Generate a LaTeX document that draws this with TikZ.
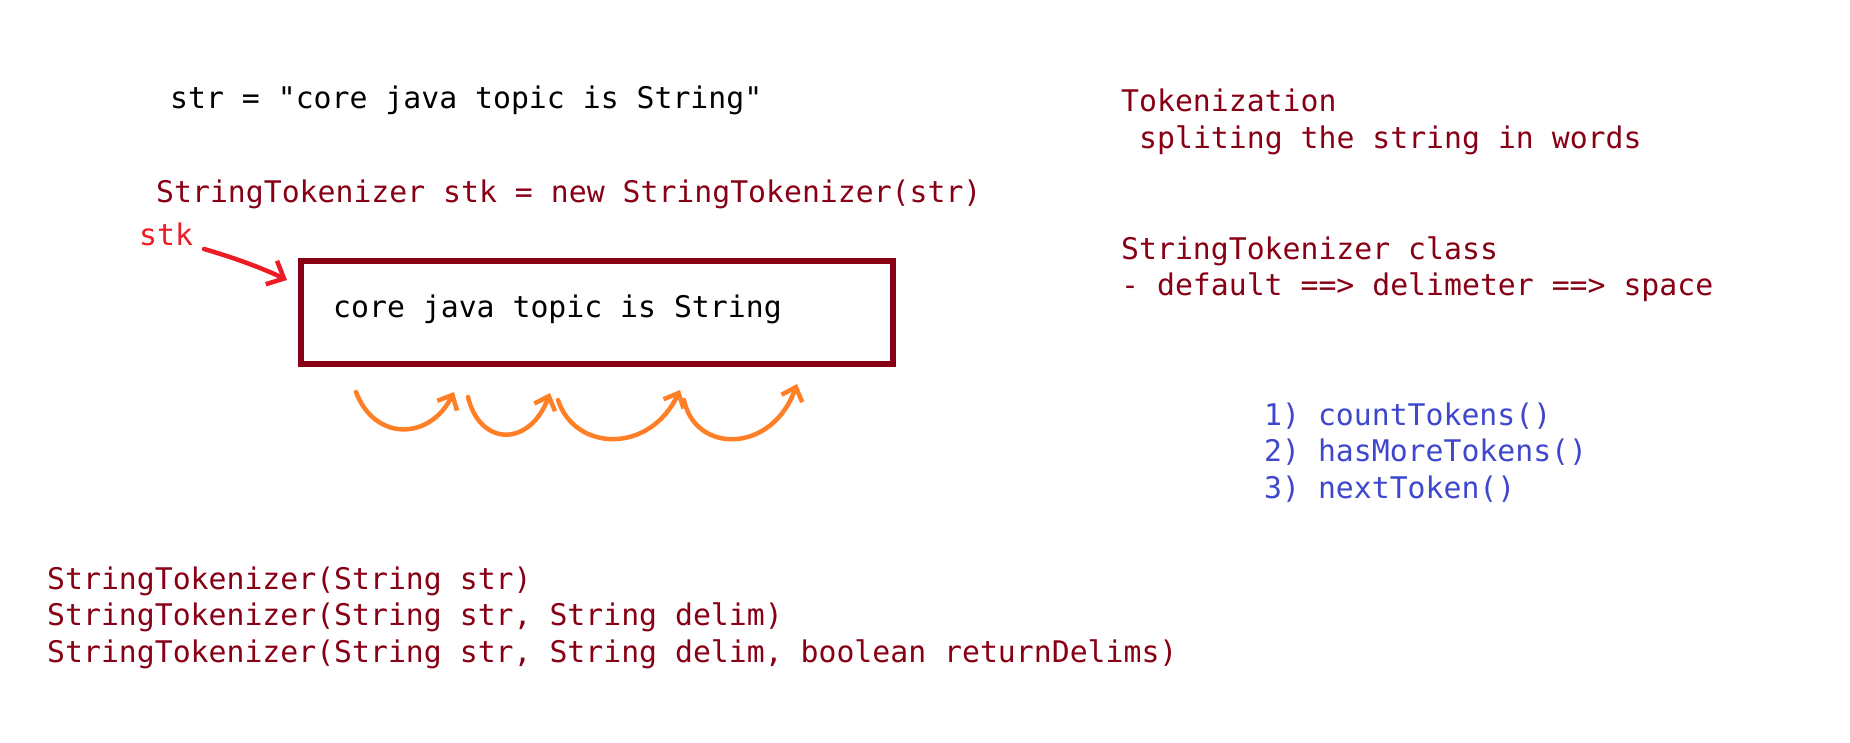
\documentclass[tikz,border=0pt]{standalone}
\usepackage{fontspec}
\setmonofont{DejaVu Sans Mono}
\usetikzlibrary{arrows.meta}
\definecolor{darkred}{HTML}{880015}
\definecolor{redpen}{HTML}{ED1C24}
\definecolor{orangepen}{HTML}{FF7F27}
\definecolor{bluetext}{HTML}{3F48CC}
\tikzset{
  code/.style={font=\fontsize{29.8}{36.6}\selectfont\ttfamily, inner sep=0pt, anchor=base west},
  maroon/.style={code, text=darkred},
  bluecode/.style={code, text=bluetext},
  strbox/.style={draw=darkred, line width=6pt},
  redarrow/.style={draw=redpen, line width=4.5pt, line cap=round, -{Straight Barb[length=14pt,width=26pt,line width=4.5pt]}},
  hop/.style={draw=orangepen, line width=4.5pt, line cap=round, -{Straight Barb[length=12pt,width=22pt,line width=4.5pt]}}
}
\begin{document}
\begin{tikzpicture}[x=1pt,y=-1pt]
\fill[white] (0,0) rectangle (1850,743);
\useasboundingbox (0,0) rectangle (1850,743);

% left column
\node[code] (strdef) at (170,108.6) {str = "core java topic is String"};
\node[maroon] (stkdef) at (156,203) {StringTokenizer stk = new StringTokenizer(str)};
\node[code, text=redpen] (stk) at (139,246) {stk};

\draw[strbox] (301,261) rectangle (893,364);
\node[code] (boxtext) at (333,317) {core java topic is String};
\coordinate (boxlt) at (287,280);
\coordinate (stkend) at (204,249);
\draw[redarrow] (stkend) .. controls (235,258) and (262,268) .. (boxlt);

% orange hops
\coordinate (h0) at (356,392);
\coordinate (h1) at (454,392);
\coordinate (h1b) at (468,397);
\coordinate (h2) at (550,393);
\coordinate (h2b) at (558,400);
\coordinate (h3) at (680,390);
\coordinate (h3b) at (684,400);
\coordinate (h4) at (797,384);
\draw[hop] (h0) .. controls (375,442) and (430,440) .. (h1);
\draw[hop] (h1b) .. controls (480,447) and (530,447) .. (h2);
\draw[hop] (h2b) .. controls (575,452) and (650,454) .. (h3);
\draw[hop] (h3b) .. controls (695,454) and (772,454) .. (h4);

% right column
\node[maroon] (tok) at (1121,112) {Tokenization};
\node[maroon] (split) at (1139,149) {spliting the string in words};
\node[maroon] (cls) at (1121,260) {StringTokenizer class};
\node[maroon] (dflt) at (1121,296) {- default ==> delimeter ==> space};

\node[bluecode] (m1) at (1264,425) {1) countTokens()};
\node[bluecode] (m2) at (1264,461) {2) hasMoreTokens()};
\node[bluecode] (m3) at (1264,498) {3) nextToken()};

% constructors
\node[maroon] (c1) at (47,589) {StringTokenizer(String str)};
\node[maroon] (c2) at (47,625) {StringTokenizer(String str, String delim)};
\node[maroon] (c3) at (47,662) {StringTokenizer(String str, String delim, boolean returnDelims)};
\end{tikzpicture}
\end{document}
